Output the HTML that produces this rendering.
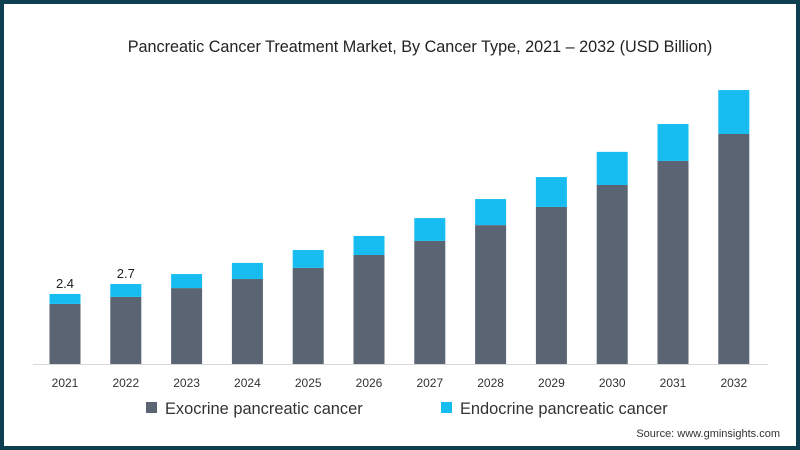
<!DOCTYPE html>
<html><head><meta charset="utf-8"><style>
html,body{margin:0;padding:0;}
body{width:800px;height:450px;overflow:hidden;background:#fff;font-family:"Liberation Sans",sans-serif;}
#frame{position:absolute;left:0;top:0;width:792px;height:442px;border:4px solid #0e3f50;background:#fff;}
</style></head><body>
<div id="frame"></div>
<svg id="chart" width="800" height="450" style="position:absolute;left:0;top:0">
<text x="420" y="52" text-anchor="middle" font-size="16.2" fill="#222">Pancreatic Cancer Treatment Market, By Cancer Type, 2021 – 2032 (USD Billion)</text>
<line x1="33" y1="364.5" x2="768" y2="364.5" stroke="#d8d8d8" stroke-width="1"/>
<g id="bars"></g>
<rect x="146" y="402" width="11" height="11" fill="#5a6472"/>
<text x="165" y="414" font-size="16.4" fill="#333">Exocrine pancreatic cancer</text>
<rect x="441" y="402" width="11" height="11" fill="#17bdf0"/>
<text x="460" y="414" font-size="16.4" fill="#333">Endocrine pancreatic cancer</text>
<text x="780" y="437" text-anchor="end" font-size="11" fill="#333">Source: www.gminsights.com</text>
</svg>
<script>
const years=["2021","2022","2023","2024","2025","2026","2027","2028","2029","2030","2031","2032"];
const exocrine=[2.05,2.29,2.59,2.90,3.28,3.72,4.20,4.74,5.36,6.11,6.93,7.85];
const endocrine=[0.34,0.44,0.48,0.55,0.61,0.65,0.78,0.89,1.02,1.13,1.26,1.50];
const labels=["2.4","2.7","","","","","","","","","",""];
const NS="http://www.w3.org/2000/svg";
const g=document.getElementById('bars');
const baseY=364, pxPer=29.3, x0=65, step=60.8, bw=31;
const xPos=i=>x0+i*step;
const yPos=v=>baseY-v*pxPer;
function mk(tag,attrs){const e=document.createElementNS(NS,tag);for(const k in attrs)e.setAttribute(k,attrs[k]);g.appendChild(e);return e;}
years.forEach((yr,i)=>{
  const cx=xPos(i);
  const yE=yPos(exocrine[i]);
  const yT=yPos(exocrine[i]+endocrine[i]);
  const r1=mk('rect',{x:cx-bw/2,y:yE,width:bw,height:baseY-yE,fill:'#5a6472'});
  
  
  const r2=mk('rect',{x:cx-bw/2,y:yT,width:bw,height:yE-yT,fill:'#17bdf0'});
  
  
  const t=mk('text',{x:cx,y:387,'text-anchor':'middle','font-size':'12',fill:'#333'});
  t.textContent=yr;
  
  
  if(labels[i]){
    const l=mk('text',{x:cx,y:yT-6,'text-anchor':'middle','font-size':'13',fill:'#222'});
    l.textContent=labels[i];
    
    
  }
});
</script>
</body></html>
